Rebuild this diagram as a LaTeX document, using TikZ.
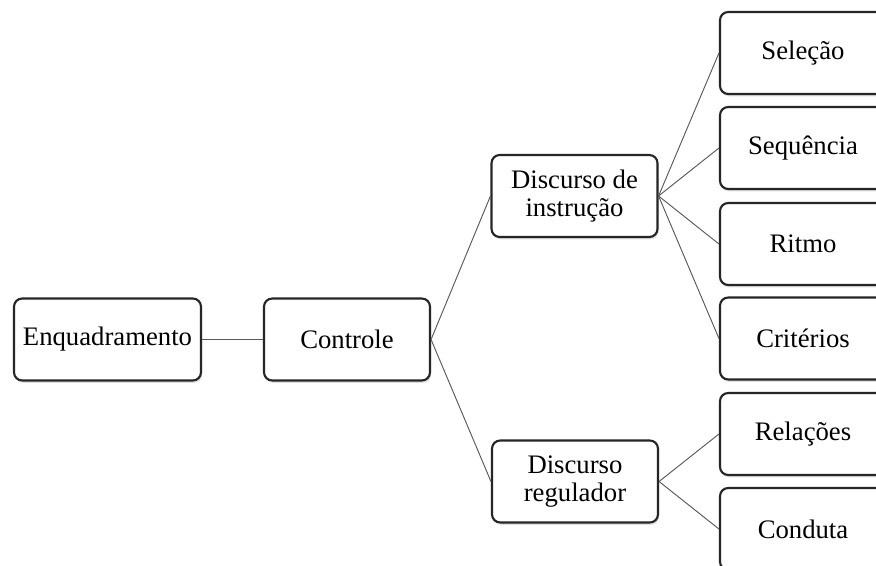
\documentclass[tikz,border=0pt]{standalone}
\usepackage{fontspec}
\setmainfont{Liberation Serif}
\usetikzlibrary{shadows}
\begin{document}
\begin{tikzpicture}[x=0.03cm,y=-0.03cm,
        caixa/.style={draw=black!85, line width=1.8pt, rounded corners=7pt, fill=white,
            align=center, inner sep=0pt, minimum width=4.98cm, minimum height=2.46cm,
            font=\fontsize{22.8}{23.5}\selectfont,
            drop shadow={shadow xshift=1pt, shadow yshift=-2pt, opacity=0.25}},
        liga/.style={draw=black!65, line width=0.8pt}]
        \clip (0,0) rectangle (876,565);
        \fill[white] (0,0) rectangle (876,565);

        \node[caixa, minimum width=5.61cm] (enq) at (107.5,339.5) {Enquadramento};
        \node[caixa] (ctrl) at (347,339.5) {Controle};

        \node[caixa] (instr) at (574.5,196) {Discurso de\\instrução};
        \node[caixa] (regul) at (575,481.5) {Discurso\\regulador};

        \node[caixa] (sel) at (803,53) {Seleção};
        \node[caixa] (seq) at (803,148) {Sequência};
        \node[caixa] (rit) at (803,244) {Ritmo};
        \node[caixa] (crit) at (803,338.5) {Critérios};
        \node[caixa] (rel) at (803,434) {Relações};
        \node[caixa] (cond) at (803,529) {Conduta};

        %\draw[gray, dashed] (0,0) grid (876,565);

        \draw[liga] (enq) -- (ctrl);
        \draw[liga] (ctrl.east) -- (instr.west);
        \draw[liga] (ctrl.east) -- (regul.west);

        \draw[liga] (instr.east) -- (sel.west);
        \draw[liga] (instr.east) -- (seq.west);
        \draw[liga] (instr.east) -- (rit.west);
        \draw[liga] (instr.east) -- (crit.west);

        \draw[liga] (regul.east) -- (rel.west);
        \draw[liga] (regul.east) -- (cond.west);
    \end{tikzpicture}
\end{document}
